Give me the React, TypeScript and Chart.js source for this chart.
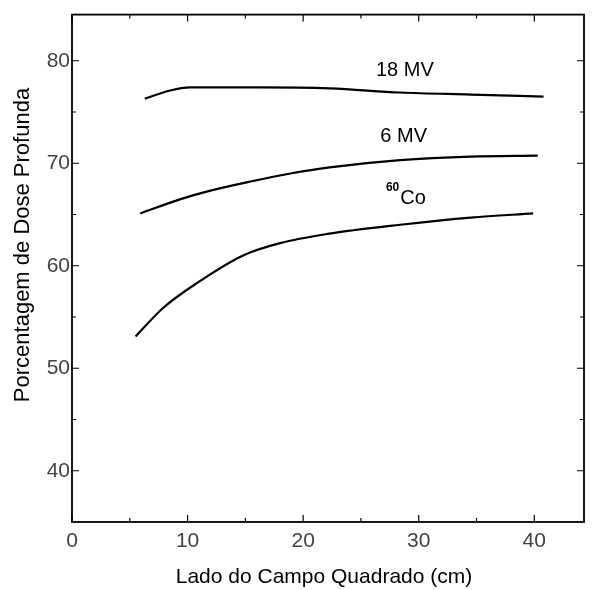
import React, { useEffect, useRef } from "react";
import { Chart, registerables } from "chart.js";
Chart.register(...registerables);

const xTicks = [0, 10, 20, 30, 40];
const yTicks = [40, 50, 60, 70, 80];
const xMinor = [5, 15, 25, 35];
const yMinor = [45, 55, 65, 75];

const mv18X = [6.3, 8.5, 10.2, 16.3, 22.3, 28.4, 34.5, 40.8];
const mv18Y = [76.3, 77.1, 77.4, 77.4, 77.3, 76.9, 76.7, 76.5];

const mv6X = [5.9, 9.4, 11.9, 15.4, 18.9, 22.3, 28.4, 34.5, 40.3];
const mv6Y = [65.1, 66.5, 67.3, 68.2, 69.0, 69.6, 70.3, 70.65, 70.75];

const coX = [5.5, 7.9, 10.8, 14.8, 18.0, 22.1, 28.4, 34.5, 39.9];
const coY = [53.1, 55.9, 58.3, 61.0, 62.2, 63.1, 64.0, 64.7, 65.1];

const seriesNames = ["18 MV", "6 MV", "Co"];
const labelX = [28.8, 28.7, 28.4];
const labelY = [79.0, 72.6, 66.55];
const isotopeMass = "60";

const xTitle = "Lado do Campo Quadrado (cm)";
const yTitle = "Porcentagem de Dose Profunda";

const FONT = "'Liberation Sans', Arial, sans-serif";

const pts = (xs: number[], ys: number[]) => xs.map((x, i) => ({ x, y: ys[i] }));

export default function App() {
  const ref = useRef<HTMLCanvasElement | null>(null);
  useEffect(() => {
    if (!ref.current) return;
    const framePlugin = {
      id: "framePlugin",
      afterDraw(chart: any) {
        const { ctx, chartArea } = chart;
        const xs = chart.scales.x;
        const ys = chart.scales.y;
        const { left, right, top, bottom } = chartArea;
        ctx.save();
        ctx.strokeStyle = "#000";
        ctx.lineWidth = 1.8;
        ctx.strokeRect(left, top, right - left, bottom - top);
        ctx.lineWidth = 1.2;
        const drawX = (v: number, len: number) => {
          const p = xs.getPixelForValue(v);
          ctx.beginPath();
          ctx.moveTo(p, bottom);
          ctx.lineTo(p, bottom - len);
          ctx.moveTo(p, top);
          ctx.lineTo(p, top + len);
          ctx.stroke();
        };
        const drawY = (v: number, len: number) => {
          const p = ys.getPixelForValue(v);
          ctx.beginPath();
          ctx.moveTo(left, p);
          ctx.lineTo(left + len, p);
          ctx.moveTo(right, p);
          ctx.lineTo(right - len, p);
          ctx.stroke();
        };
        xTicks.forEach((v) => drawX(v, 7));
        xMinor.forEach((v) => drawX(v, 4));
        yTicks.forEach((v) => drawY(v, 7));
        yMinor.forEach((v) => drawY(v, 4));

        // series labels
        ctx.fillStyle = "#000";
        ctx.textBaseline = "middle";
        for (let i = 0; i < seriesNames.length; i++) {
          const px = xs.getPixelForValue(labelX[i]);
          const py = ys.getPixelForValue(labelY[i]);
          ctx.font = `20px ${FONT}`;
          if (i < 2) {
            ctx.textAlign = "center";
            ctx.fillText(seriesNames[i], px, py);
          } else {
            ctx.textAlign = "left";
            ctx.fillText(seriesNames[i], px, py);
            ctx.font = `bold 12px ${FONT}`;
            ctx.textAlign = "right";
            ctx.fillText(isotopeMass, px - 1, py - 11);
          }
        }

        // axis titles
        ctx.font = `21px ${FONT}`;
        ctx.textAlign = "center";
        ctx.textBaseline = "middle";
        ctx.fillText(xTitle, (left + right) / 2 - 4, 577);
        ctx.font = `22px ${FONT}`;
        ctx.translate(23, 245);
        ctx.rotate(-Math.PI / 2);
        ctx.fillText(yTitle, 0, 0);
        ctx.restore();
      },
    };

    const chart = new Chart(ref.current, {
      type: "line",
      data: {
        datasets: [
          { label: "18 MV", data: pts(mv18X, mv18Y) },
          { label: "6 MV", data: pts(mv6X, mv6Y) },
          { label: "60Co", data: pts(coX, coY) },
        ].map((d) => ({
          ...d,
          borderColor: "#000",
          borderWidth: 2.2,
          pointRadius: 0,
          cubicInterpolationMode: "monotone" as const,
          fill: false,
        })),
      },
      options: {
        animation: false,
        responsive: false,
        devicePixelRatio: 1,
        layout: { padding: { top: 14, right: 9, left: 0, bottom: 0 } },
        plugins: { legend: { display: false }, tooltip: { enabled: false } },
        scales: {
          x: {
            type: "linear",
            min: 0,
            max: 44.3,
            afterFit: (s: any) => {
              s.height = 68;
            },
            afterBuildTicks: (s: any) => {
              s.ticks = xTicks.map((v) => ({ value: v }));
            },
            grid: { display: false, drawTicks: false },
            border: { display: false },
            ticks: {
              color: "#444",
              font: { family: FONT, size: 21 },
              padding: 7,
              maxRotation: 0,
              autoSkip: false,
            },
          },
          y: {
            type: "linear",
            min: 35,
            max: 84.5,
            afterFit: (s: any) => {
              s.width = 72;
            },
            afterBuildTicks: (s: any) => {
              s.ticks = yTicks.map((v) => ({ value: v }));
            },
            grid: { display: false, drawTicks: false },
            border: { display: false },
            ticks: {
              color: "#444",
              font: { family: FONT, size: 21 },
              padding: 2,
              autoSkip: false,
            },
          },
        },
      },
      plugins: [framePlugin],
    });
    return () => chart.destroy();
  }, []);

  return (
    <div style={{ position: "absolute", left: 0, top: 0, width: 593, height: 590, background: "#fff" }}>
      <canvas ref={ref} width={593} height={590} style={{ width: 593, height: 590 }} />
    </div>
  );
}
